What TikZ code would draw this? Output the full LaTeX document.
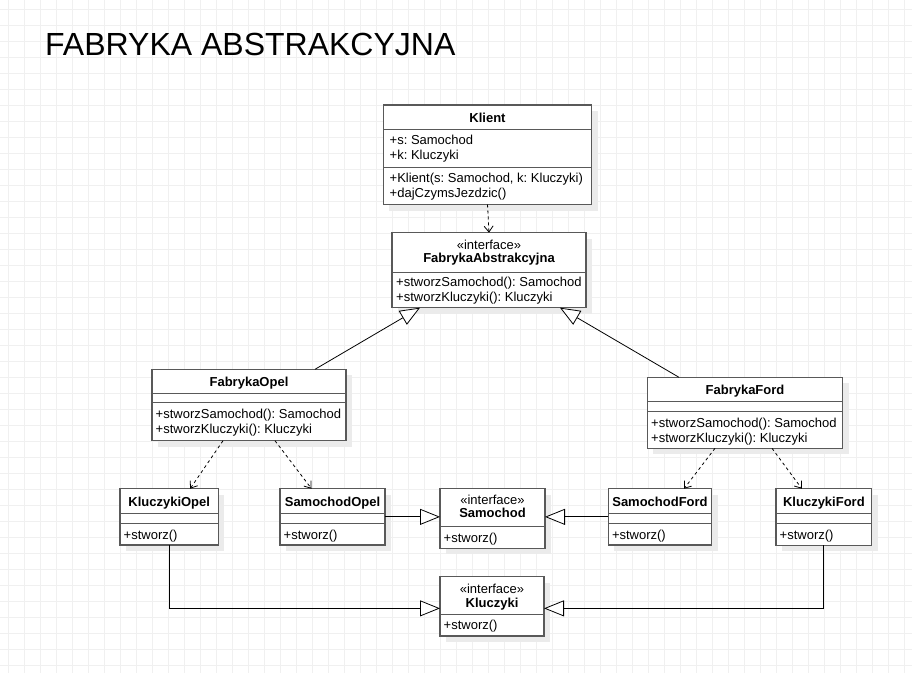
\documentclass[tikz,border=0pt]{standalone}
\usepackage{fontspec}
\setmainfont{Liberation Sans}
\frenchspacing
\usetikzlibrary{arrows.meta, shadows}
\tikzset{
  siatka/.style={draw=black!6, line width=0.8pt},
  klasa/.style={draw=black!65, line width=1.2pt, fill=white, anchor=north west,
    inner sep=0pt, outer sep=0pt,
    drop shadow={shadow xshift=6pt, shadow yshift=-6pt, fill=black!8, opacity=1}},
  linia/.style={draw=black!65, line width=1.2pt},
  tekst/.style={anchor=base west, inner sep=0pt, font=\fontsize{13}{15}\selectfont},
  nazwa/.style={anchor=base, inner sep=0pt, font=\fontsize{13}{15}\selectfont\bfseries},
  stereotyp/.style={anchor=base, inner sep=0pt, font=\fontsize{13}{15}\selectfont},
  zaleznosc/.style={-{Straight Barb[length=6pt, width=9pt]}, dash pattern=on 3pt off 3pt, line width=0.8pt},
  uogolnienie/.style={-{Triangle[fill=white, length=20pt, width=16pt]}, line width=0.8pt},
}

\begin{document}
\begin{tikzpicture}[x=1pt, y=-1pt]
    \useasboundingbox (0,0) rectangle (912,673);
    \fill[white] (0,0) rectangle (912,673);
    \foreach \x in {8,24,...,904}
    \draw[siatka] (\x,0) -- (\x,673);
    \foreach \y in {9,25,...,665}
    \draw[siatka] (0,\y) -- (912,\y);
    % tytul
    \node[anchor=base west, inner sep=0pt, font=\fontsize{32}{36}\selectfont] (tytul) at (45,55) {FABRYKA ABSTRAKCYJNA};
    % Klient
    \node[klasa, minimum width=208.4, minimum height=99.5] (klient) at (383.3,105) {};
    \draw[linia] (383.3,129.3) -- (591.7,129.3);
    \draw[linia] (383.3,167.7) -- (591.7,167.7);
    \node[nazwa] at (487.5,122.3) {Klient};
    \node[tekst] at (389.5,144.3) {+s: Samochod};
    \node[tekst] at (389.5,159.3) {+k: Kluczyki};
    \node[tekst] at (389.5,182.6) {+Klient(s: Samochod, k: Kluczyki)};
    \node[tekst] at (389.5,197.6) {+dajCzymsJezdzic()};
    % FabrykaAbstrakcyjna
    \node[klasa, minimum width=194, minimum height=75] (abstrakcyjna) at (392,232.7) {};
    \draw[linia] (392,272.7) -- (586,272.7);
    \node[stereotyp] at (489,249) {«interface»};
    \node[nazwa] at (489,262.6) {FabrykaAbstrakcyjna};
    \node[tekst] at (396,286) {+stworzSamochod(): Samochod};
    \node[tekst] at (396,301) {+stworzKluczyki(): Kluczyki};
    % FabrykaOpel
    \node[klasa, minimum width=194, minimum height=71.4] (opel) at (152,369.3) {};
    \draw[linia] (152,393.3) -- (346,393.3);
    \draw[linia] (152,402.7) -- (346,402.7);
    \node[nazwa] at (249,386) {FabrykaOpel};
    \node[tekst] at (155.5,418.6) {+stworzSamochod(): Samochod};
    \node[tekst] at (155.5,433.6) {+stworzKluczyki(): Kluczyki};
    % FabrykaFord
    \node[klasa, minimum width=195.4, minimum height=71] (ford) at (647.3,377.3) {};
    \draw[linia] (647.3,401.7) -- (842.7,401.7);
    \draw[linia] (647.3,411.7) -- (842.7,411.7);
    \node[nazwa] at (745,394.3) {FabrykaFord};
    \node[tekst] at (651,427.6) {+stworzSamochod(): Samochod};
    \node[tekst] at (651,442.6) {+stworzKluczyki(): Kluczyki};
    % KluczykiOpel
    \node[klasa, minimum width=98.3, minimum height=56.3] (kluczykiOpel) at (120,488.7) {};
    \draw[linia] (120,513.3) -- (218.3,513.3);
    \draw[linia] (120,523.3) -- (218.3,523.3);
    \node[nazwa] at (169.2,506) {KluczykiOpel};
    \node[tekst] at (123.5,539.3) {+stworz()};
    % SamochodOpel
    \node[klasa, minimum width=105, minimum height=56.3] (samochodOpel) at (280,488.7) {};
    \draw[linia] (280,513.3) -- (385,513.3);
    \draw[linia] (280,523.3) -- (385,523.3);
    \node[nazwa] at (332.5,506) {SamochodOpel};
    \node[tekst] at (283.5,539.3) {+stworz()};
    % Samochod
    \node[klasa, minimum width=105, minimum height=59.6] (samochod) at (440,488.7) {};
    \draw[linia] (440,526.7) -- (545,526.7);
    \node[stereotyp] at (492.5,504) {«interface»};
    \node[nazwa] at (492.5,517.3) {Samochod};
    \node[tekst] at (443.5,542.3) {+stworz()};
    % SamochodFord
    \node[klasa, minimum width=103.4, minimum height=56.3] (samochodFord) at (608.3,488.7) {};
    \draw[linia] (608.3,513.3) -- (711.7,513.3);
    \draw[linia] (608.3,523.3) -- (711.7,523.3);
    \node[nazwa] at (660,506) {SamochodFord};
    \node[tekst] at (611.8,539.3) {+stworz()};
    % KluczykiFord
    \node[klasa, minimum width=95.7, minimum height=56.6] (kluczykiFord) at (776,488.7) {};
    \draw[linia] (776,513.3) -- (871.7,513.3);
    \draw[linia] (776,523.3) -- (871.7,523.3);
    \node[nazwa] at (823.9,506) {KluczykiFord};
    \node[tekst] at (779.5,539.3) {+stworz()};
    % Kluczyki
    \node[klasa, minimum width=104, minimum height=59.3] (kluczyki) at (440,576.7) {};
    \draw[linia] (440,614.3) -- (544,614.3);
    \node[stereotyp] at (492,593) {«interface»};
    \node[nazwa] at (492,607.3) {Kluczyki};
    \node[tekst] at (443.5,629.3) {+stworz()};
    % polaczenia
    \draw[zaleznosc] (klient.south) -- (abstrakcyjna.north);
    \draw[uogolnienie] ([xshift=66pt]opel.north) -- ([xshift=-69pt]abstrakcyjna.south);
    \draw[uogolnienie] ([xshift=-66pt]ford.north) -- ([xshift=71pt]abstrakcyjna.south);
    \draw[zaleznosc] ([xshift=-26pt]opel.south) -- ([xshift=21pt]kluczykiOpel.north);
    \draw[zaleznosc] ([xshift=26pt]opel.south) -- ([xshift=-21pt]samochodOpel.north);
    \draw[zaleznosc] ([xshift=-30pt]ford.south) -- ([xshift=24pt]samochodFord.north);
    \draw[zaleznosc] ([xshift=27pt]ford.south) -- ([xshift=-22pt]kluczykiFord.north);
    \draw[uogolnienie] (samochodOpel.east) -- (samochodOpel.east -| samochod.west);
    \draw[uogolnienie] (samochodFord.west) -- (samochodFord.west -| samochod.east);
    \draw[uogolnienie] (kluczykiOpel.south) |- ([yshift=-2pt]kluczyki.west);
    \draw[uogolnienie] (kluczykiFord.south) |- ([yshift=-2pt]kluczyki.east);
\end{tikzpicture}
\end{document}
